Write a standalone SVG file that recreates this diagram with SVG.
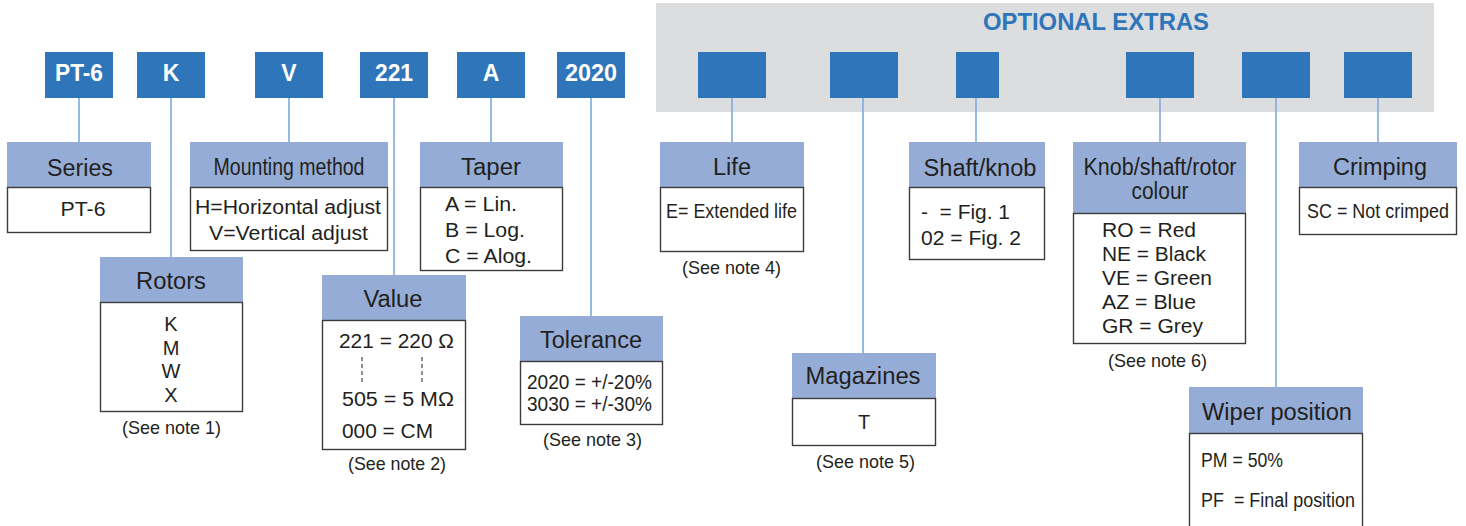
<svg xmlns="http://www.w3.org/2000/svg" width="1466" height="526" viewBox="0 0 1466 526">
<style>
text{font-family:"Liberation Sans",Arial,sans-serif;fill:#231F20}
.code{fill:#2E75BA}
.ct{fill:#fff;font-weight:bold;font-size:23px;text-anchor:middle}
.hd{fill:#95ADD6}
.ht{font-size:23px;text-anchor:middle}
.bd{fill:#fff;stroke:#3C3C3C;stroke-width:1.4}
.bt{font-size:20px}
.c{text-anchor:middle}
.nt{font-size:19px;text-anchor:middle}
.ln{stroke:#7FAADC;stroke-width:1.6;fill:none}
</style>
<rect x="656" y="3" width="778" height="109" fill="#DCDDDF"/>
<text x="1096" y="30" font-size="23" font-weight="bold" text-anchor="middle" style="fill:#2E75BA" textLength="226" lengthAdjust="spacingAndGlyphs">OPTIONAL EXTRAS</text>
<g id="connectors">
<line class="ln" x1="79" y1="98" x2="79" y2="142"/>
<line class="ln" x1="171" y1="98" x2="171" y2="257"/>
<line class="ln" x1="289" y1="98" x2="289" y2="142"/>
<line class="ln" x1="394" y1="98" x2="394" y2="275"/>
<line class="ln" x1="491" y1="98" x2="491" y2="142"/>
<line class="ln" x1="591" y1="98" x2="591" y2="316"/>
<line class="ln" x1="732" y1="98" x2="732" y2="142"/>
<line class="ln" x1="863" y1="98" x2="863" y2="353"/>
<line class="ln" x1="976" y1="98" x2="976" y2="142"/>
<line class="ln" x1="1160" y1="98" x2="1160" y2="142"/>
<line class="ln" x1="1276" y1="98" x2="1276" y2="387"/>
<line class="ln" x1="1378" y1="98" x2="1378" y2="142"/>
</g>
<g id="code-pt6"><rect class="code" x="45" y="52" width="68" height="46"/><text class="ct" x="79" y="81" textLength="48" lengthAdjust="spacingAndGlyphs">PT-6</text></g>
<g id="code-k"><rect class="code" x="137" y="52" width="68" height="46"/><text class="ct" x="171" y="81">K</text></g>
<g id="code-v"><rect class="code" x="255" y="52" width="68" height="46"/><text class="ct" x="289" y="81">V</text></g>
<g id="code-221"><rect class="code" x="360" y="52" width="68" height="46"/><text class="ct" x="394" y="81" textLength="38" lengthAdjust="spacingAndGlyphs">221</text></g>
<g id="code-a"><rect class="code" x="457" y="52" width="68" height="46"/><text class="ct" x="491" y="81">A</text></g>
<g id="code-2020"><rect class="code" x="557" y="52" width="68" height="46"/><text class="ct" x="591" y="81" textLength="52" lengthAdjust="spacingAndGlyphs">2020</text></g>
<g id="opt-1"><rect class="code" x="698" y="52" width="68" height="46"/></g>
<g id="opt-2"><rect class="code" x="830" y="52" width="68" height="46"/></g>
<g id="opt-3"><rect class="code" x="956" y="52" width="43" height="46"/></g>
<g id="opt-4"><rect class="code" x="1126" y="52" width="68" height="46"/></g>
<g id="opt-5"><rect class="code" x="1242" y="52" width="68" height="46"/></g>
<g id="opt-6"><rect class="code" x="1344" y="52" width="68" height="46"/></g>

<g id="series">
<rect class="hd" x="7" y="142" width="144" height="45"/>
<rect class="bd" x="7.5" y="187.5" width="143" height="45"/>
<text class="ht" x="80" y="176" textLength="66" lengthAdjust="spacingAndGlyphs">Series</text>
<text class="bt c" x="83" y="216" textLength="45" lengthAdjust="spacingAndGlyphs">PT-6</text>
</g>
<g id="mounting">
<rect class="hd" x="190" y="142" width="198" height="45"/>
<rect class="bd" x="190.5" y="187.5" width="197" height="63"/>
<text class="ht" x="289" y="175" textLength="151" lengthAdjust="spacingAndGlyphs">Mounting method</text>
<text class="bt c" x="288" y="214" textLength="186" lengthAdjust="spacingAndGlyphs">H=Horizontal adjust</text>
<text class="bt c" x="288.5" y="240" textLength="159" lengthAdjust="spacingAndGlyphs">V=Vertical adjust</text>
</g>
<g id="taper">
<rect class="hd" x="420" y="142" width="143" height="45"/>
<rect class="bd" x="420.5" y="187.5" width="142" height="83"/>
<text class="ht" x="491" y="175" textLength="60" lengthAdjust="spacingAndGlyphs">Taper</text>
<text class="bt" x="445" y="211" textLength="72" lengthAdjust="spacingAndGlyphs">A = Lin.</text>
<text class="bt" x="445" y="237" textLength="80" lengthAdjust="spacingAndGlyphs">B = Log.</text>
<text class="bt" x="445" y="263" textLength="87" lengthAdjust="spacingAndGlyphs">C = Alog.</text>
</g>
<g id="rotors">
<rect class="hd" x="100" y="257" width="143" height="45"/>
<rect class="bd" x="100.5" y="302.5" width="142" height="109"/>
<text class="ht" x="171" y="289" textLength="70" lengthAdjust="spacingAndGlyphs">Rotors</text>
<text class="bt c" x="171" y="331">K</text>
<text class="bt c" x="171" y="355">M</text>
<text class="bt c" x="171" y="378">W</text>
<text class="bt c" x="171" y="402">X</text>
<text class="nt" x="171.5" y="434" textLength="99" lengthAdjust="spacingAndGlyphs">(See note 1)</text>
</g>
<g id="value">
<rect class="hd" x="322" y="275" width="144" height="45"/>
<rect class="bd" x="322.5" y="320.5" width="143" height="129"/>
<text class="ht" x="393" y="307" textLength="59" lengthAdjust="spacingAndGlyphs">Value</text>
<text class="bt" x="339" y="348" textLength="115" lengthAdjust="spacingAndGlyphs">221 = 220 Ω</text>
<line x1="362" y1="357" x2="362" y2="382" stroke="#231F20" stroke-width="1" stroke-dasharray="4,3"/>
<line x1="422" y1="357" x2="422" y2="382" stroke="#231F20" stroke-width="1" stroke-dasharray="4,3"/>
<text class="bt" x="342" y="406" textLength="112" lengthAdjust="spacingAndGlyphs">505 = 5 MΩ</text>
<text class="bt" x="342" y="438" textLength="91" lengthAdjust="spacingAndGlyphs">000 = CM</text>
<text class="nt" x="397" y="470" textLength="98" lengthAdjust="spacingAndGlyphs">(See note 2)</text>
</g>
<g id="tolerance">
<rect class="hd" x="520" y="316" width="143" height="45"/>
<rect class="bd" x="520.5" y="361.5" width="142" height="63"/>
<text class="ht" x="591" y="348" textLength="102" lengthAdjust="spacingAndGlyphs">Tolerance</text>
<text class="bt" x="527" y="389" textLength="125" lengthAdjust="spacingAndGlyphs">2020 = +/-20%</text>
<text class="bt" x="527" y="411" textLength="125" lengthAdjust="spacingAndGlyphs">3030 = +/-30%</text>
<text class="nt" x="592.5" y="446" textLength="99" lengthAdjust="spacingAndGlyphs">(See note 3)</text>
</g>
<g id="life">
<rect class="hd" x="660" y="142" width="144" height="45"/>
<rect class="bd" x="660.5" y="187.5" width="143" height="64"/>
<text class="ht" x="732" y="175" textLength="38" lengthAdjust="spacingAndGlyphs">Life</text>
<text class="bt" x="666" y="218" font-size="19" textLength="131" lengthAdjust="spacingAndGlyphs">E= Extended life</text>
<text class="nt" x="731.5" y="274" textLength="99" lengthAdjust="spacingAndGlyphs">(See note 4)</text>
</g>
<g id="magazines">
<rect class="hd" x="792" y="353" width="144" height="45"/>
<rect class="bd" x="792.5" y="398.5" width="143" height="47"/>
<text class="ht" x="863" y="384" textLength="115" lengthAdjust="spacingAndGlyphs">Magazines</text>
<text class="bt c" x="864" y="429">T</text>
<text class="nt" x="865.5" y="468" textLength="99" lengthAdjust="spacingAndGlyphs">(See note 5)</text>
</g>
<g id="shaft-knob">
<rect class="hd" x="909" y="142" width="136" height="45"/>
<rect class="bd" x="909.5" y="187.5" width="135" height="72"/>
<text class="ht" x="980" y="176" textLength="113" lengthAdjust="spacingAndGlyphs">Shaft/knob</text>
<text class="bt" x="921" y="219" xml:space="preserve" textLength="89" lengthAdjust="spacingAndGlyphs">-  = Fig. 1</text>
<text class="bt" x="921" y="245" textLength="100" lengthAdjust="spacingAndGlyphs">02 = Fig. 2</text>
</g>
<g id="colour">
<rect class="hd" x="1073" y="142" width="173" height="71"/>
<rect class="bd" x="1073.5" y="213.5" width="172" height="130"/>
<text class="ht" x="1160" y="175" font-size="21" textLength="153" lengthAdjust="spacingAndGlyphs">Knob/shaft/rotor</text>
<text class="ht" x="1160" y="199" font-size="21" textLength="57" lengthAdjust="spacingAndGlyphs">colour</text>
<text class="bt" x="1102" y="237" textLength="94" lengthAdjust="spacingAndGlyphs">RO = Red</text>
<text class="bt" x="1102" y="261" textLength="104" lengthAdjust="spacingAndGlyphs">NE = Black</text>
<text class="bt" x="1102" y="285" textLength="110" lengthAdjust="spacingAndGlyphs">VE = Green</text>
<text class="bt" x="1102" y="309" textLength="94" lengthAdjust="spacingAndGlyphs">AZ = Blue</text>
<text class="bt" x="1102" y="333" textLength="101" lengthAdjust="spacingAndGlyphs">GR = Grey</text>
<text class="nt" x="1157.5" y="367" textLength="99" lengthAdjust="spacingAndGlyphs">(See note 6)</text>
</g>
<g id="crimping">
<rect class="hd" x="1299" y="142" width="158" height="45"/>
<rect class="bd" x="1299.5" y="187.5" width="157" height="47"/>
<text class="ht" x="1380" y="175" textLength="94" lengthAdjust="spacingAndGlyphs">Crimping</text>
<text class="bt" x="1307" y="218" font-size="19" textLength="142" lengthAdjust="spacingAndGlyphs">SC = Not crimped</text>
</g>
<g id="wiper">
<rect class="hd" x="1189" y="387" width="174" height="46"/>
<rect class="bd" x="1189.5" y="433.5" width="173" height="100"/>
<text class="ht" x="1277" y="420" textLength="150" lengthAdjust="spacingAndGlyphs">Wiper position</text>
<text class="bt" x="1201" y="467" font-size="19" textLength="82" lengthAdjust="spacingAndGlyphs">PM = 50%</text>
<text class="bt" x="1201" y="507" font-size="19" xml:space="preserve" textLength="154" lengthAdjust="spacingAndGlyphs">PF  = Final position</text>
</g>
</svg>
